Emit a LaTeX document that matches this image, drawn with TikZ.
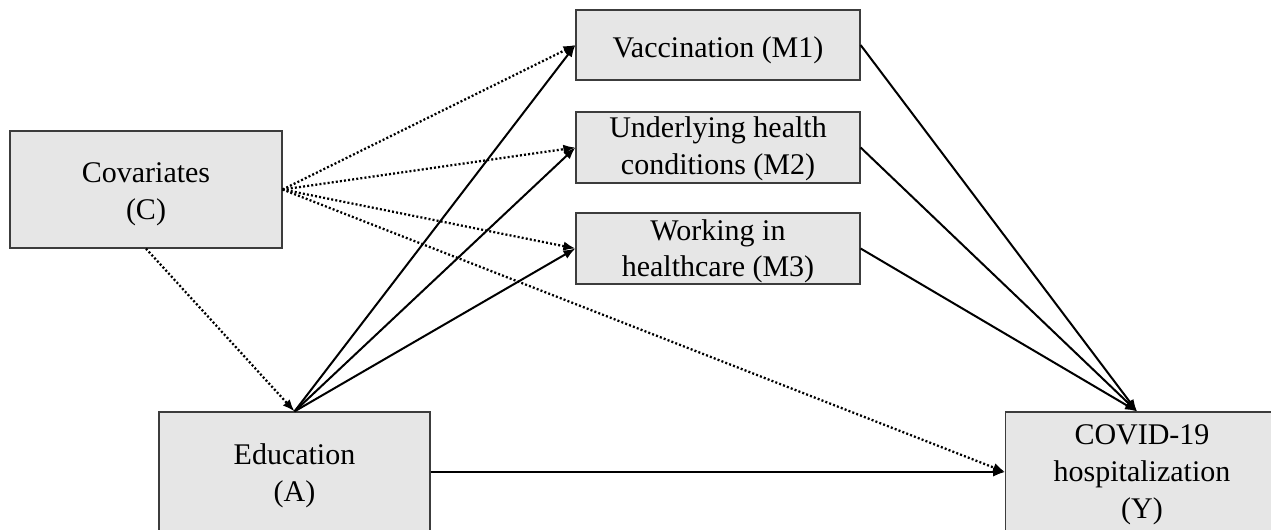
\documentclass[tikz,border=0pt]{standalone}
\usepackage{fontspec}
\setmainfont{Liberation Serif}
\usetikzlibrary{arrows.meta}
\definecolor{boxfill}{HTML}{E6E6E6}
\definecolor{boxline}{HTML}{3C3C3C}
\begin{document}
\begin{tikzpicture}[x=0.75pt,y=-0.75pt,
  varbox/.style={draw=boxline,line width=0.9pt,fill=boxfill,inner sep=0pt},
  txt/.style={inner sep=0pt,align=center,font=\fontsize{22.5}{27.5}\selectfont},
  solidarrow/.style={line width=1.5pt,-{Latex[length=9pt,width=7pt]}},
  dotarrow/.style={line width=1.7pt,dash pattern=on 1.5pt off 1.6pt,-{Latex[length=9pt,width=7pt]}}]
\useasboundingbox (0,0) rectangle (1271,529);
\node[varbox,minimum width=204pt,minimum height=87.75pt,
  label={[txt,yshift=-3.75pt]center:Covariates\\(C)}] (C) at (146,189.5) {};
\node[varbox,minimum width=213pt,minimum height=52.5pt,
  label={[txt,yshift=-4pt]center:Vaccination (M1)}] (M1) at (718,45) {};
\node[varbox,minimum width=213pt,minimum height=53.25pt,
  label={[txt,yshift=-1.2pt]center:Underlying health\\conditions (M2)}] (M2) at (718,147.5) {};
\node[varbox,minimum width=213pt,minimum height=53.25pt,
  label={[txt,yshift=-2pt]center:Working in\\healthcare (M3)}] (M3) at (718,248.5) {};
\node[varbox,minimum width=203.25pt,minimum height=96pt,
  label={[txt]center:Education\\(A)}] (A) at (294.5,476) {};
\node[varbox,minimum width=212pt,minimum height=90pt,
  label={[txt,xshift=-3.75pt,yshift=-2pt]center:COVID-19\\hospitalization\\(Y)}] (Y) at (1147,472) {};
\coordinate (Ytop) at ([xshift=-7.5pt]Y.north);
\draw[dotarrow] (C.east) -- (M1.west);
\draw[dotarrow] (C.east) -- (M2.west);
\draw[dotarrow] (C.east) -- (M3.west);
\draw[dotarrow] (C.east) -- (Y.west);
\draw[dotarrow] (C.south) -- (A.north);
\draw[solidarrow] (A.north) -- (M1.west);
\draw[solidarrow] (A.north) -- (M2.west);
\draw[solidarrow] (A.north) -- (M3.west);
\draw[solidarrow] (A.east |- Y.west) -- (Y.west);
\draw[solidarrow] (M1.east) -- (Ytop);
\draw[solidarrow] (M2.east) -- (Ytop);
\draw[solidarrow] (M3.east) -- (Ytop);
\end{tikzpicture}
\end{document}
